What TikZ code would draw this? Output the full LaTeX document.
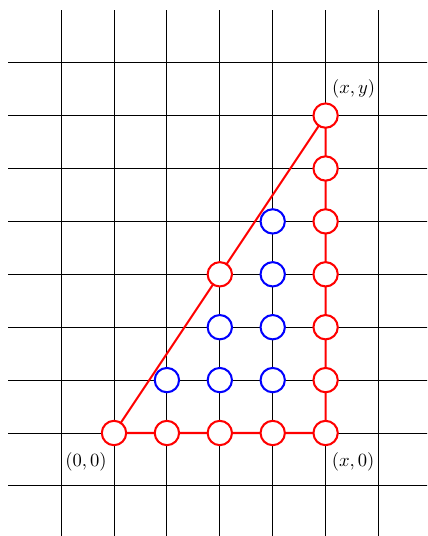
\documentclass[tikz,border=0pt]{standalone}
\begin{document}
\begin{tikzpicture}[
  gridline/.style={black, line width=0.5pt},
  redpt/.style={circle, draw=red, fill=white, line width=1.1pt, minimum size=0.46cm, inner sep=0pt},
  bluept/.style={circle, draw=blue, fill=white, line width=1.1pt, minimum size=0.46cm, inner sep=0pt},
  redline/.style={red, line width=1.1pt}
]
\useasboundingbox[clip] (-2.155,-1.947) rectangle (5.917,8.185);
\foreach \y in {-1,...,7} \draw[gridline] (-2,\y) -- (6.5,\y);
\foreach \x in {-1,...,5} \draw[gridline] (\x,-2.5) -- (\x,8);
\coordinate (A) at (0,0);
\coordinate (B) at (4,0);
\coordinate (C) at (4,6);
\draw[redline] (A) -- (B) -- (C) -- cycle;
\foreach \i in {0,...,4} \node[redpt] (b\i) at (\i,0) {};
\foreach \j in {1,...,6} \node[redpt] (r\j) at (4,\j) {};
\node[redpt] (m) at (2,3) {};
\node[bluept] (p11) at (1,1) {};
\node[bluept] (p21) at (2,1) {};
\node[bluept] (p31) at (3,1) {};
\node[bluept] (p22) at (2,2) {};
\node[bluept] (p32) at (3,2) {};
\node[bluept] (p33) at (3,3) {};
\node[bluept] (p34) at (3,4) {};
\node (lxy) at ([shift={(0.53,0.5)}]r6.center) {$(x,y)$};
\node (l00) at ([shift={(-0.53,-0.55)}]b0.center) {$(0,0)$};
\node (lx0) at ([shift={(0.52,-0.55)}]b4.center) {$(x,0)$};
\end{tikzpicture}
\end{document}
